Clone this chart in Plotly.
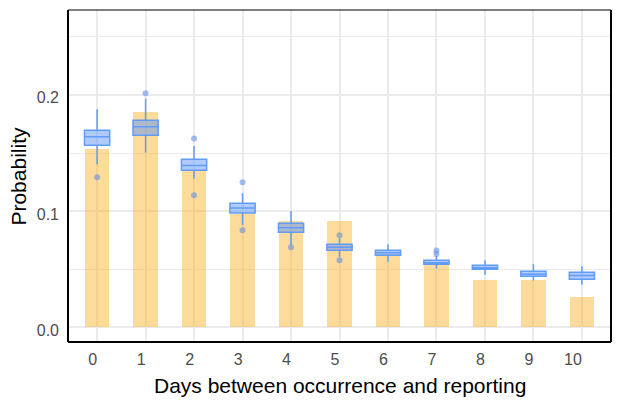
import plotly.graph_objects as go

days = [0, 1, 2, 3, 4, 5, 6, 7, 8, 9, 10]
tick_labels = [str(d) for d in days]

# Observed (empirical) probability for each delay
observed = [0.1535, 0.1854, 0.135, 0.098, 0.0916, 0.0916, 0.063, 0.0555, 0.0409, 0.0409, 0.0262]

# Posterior box statistics
q1 = [0.1567, 0.1653, 0.1352, 0.0985, 0.0819, 0.0664, 0.0621, 0.0544, 0.0501, 0.0440, 0.0415]
median = [0.1641, 0.1727, 0.1392, 0.1028, 0.0858, 0.0690, 0.0643, 0.0557, 0.0514, 0.0458, 0.0446]
q3 = [0.1696, 0.1782, 0.1447, 0.1068, 0.0896, 0.0716, 0.0664, 0.0578, 0.0535, 0.0483, 0.0475]
lower_whisker = [0.1404, 0.1504, 0.1280, 0.0882, 0.0712, 0.0609, 0.0566, 0.0506, 0.0454, 0.0403, 0.0368]
upper_whisker = [0.1877, 0.1966, 0.1561, 0.1154, 0.1002, 0.0767, 0.0716, 0.0615, 0.0578, 0.0544, 0.0526]

# Outliers
outlier_day = [0, 1, 2, 2, 3, 3, 4, 5, 5, 7, 7]
outlier_value = [0.1292, 0.2015, 0.1624, 0.1137, 0.1249, 0.0836, 0.0690, 0.0793, 0.0578, 0.0661, 0.0632]

blue = "#619CF7"
font = "Liberation Sans, Arial, sans-serif"

fig = go.Figure()

fig.add_trace(go.Bar(
    x=days, y=observed, width=0.5,
    marker=dict(color="rgba(250,175,30,0.45)", line=dict(width=0)),
    showlegend=False, hoverinfo="skip",
))

fig.add_trace(go.Box(
    x=days, q1=q1, median=median, q3=q3,
    lowerfence=lower_whisker, upperfence=upper_whisker,
    width=0.52, boxpoints=False, whiskerwidth=0,
    fillcolor="rgba(95,150,250,0.5)",
    line=dict(color=blue, width=1.5),
    showlegend=False,
))

fig.add_trace(go.Scatter(
    x=outlier_day, y=outlier_value, mode="markers",
    marker=dict(size=6, color="rgba(90,135,230,0.55)", line=dict(width=0)),
    showlegend=False,
))

fig.update_layout(
    width=622, height=405,
    margin=dict(l=68, r=11, t=10, b=63, autoexpand=False),
    paper_bgcolor="white", plot_bgcolor="white",
    font=dict(family=font, color="#4D4D4D"),
    bargap=0, boxmode="overlay",
    xaxis=dict(
        range=[-0.6, 10.6], tickmode="array", tickvals=days, ticktext=tick_labels,
        ticklabelposition="outside left", automargin=False, ticklabelstandoff=6,
        showgrid=True, gridcolor="#EBEBEB", gridwidth=1.5,
        zeroline=False, showline=False, ticks="",
        tickfont=dict(size=16, color="#4D4D4D", family=font),
    ),
    yaxis=dict(
        range=[-0.0125, 0.273], tickmode="array", tickvals=[0, 0.1, 0.2],
        ticktext=["0.0", "0.1", "0.2"], automargin=False,
        ticklabelstandoff=8, ticklabelshift=3,
        showgrid=True, gridcolor="#EBEBEB", gridwidth=1.5,
        minor=dict(tickvals=[0.05, 0.15, 0.25], showgrid=True, gridcolor="#EBEBEB", gridwidth=1.2),
        zeroline=False, showline=False, ticks="",
        tickfont=dict(size=16, color="#4D4D4D", family=font),
    ),
    annotations=[
        dict(text="Days between occurrence and reporting", xref="paper", yref="paper",
             x=0.5, y=-0.089, xanchor="center", yanchor="top", showarrow=False,
             font=dict(size=21, color="black", family=font)),
        dict(text="Probability", xref="paper", yref="paper",
             x=-0.068, y=0.5, xanchor="right", yanchor="middle", textangle=-90, showarrow=False,
             font=dict(size=21, color="black", family=font)),
    ],
    shapes=[
        dict(type="line", xref="paper", yref="paper", x0=0, x1=1, y0=1, y1=1, line=dict(color="black", width=1.2)),
        dict(type="line", xref="paper", yref="paper", x0=0, x1=1, y0=0, y1=0, line=dict(color="black", width=2)),
        dict(type="line", xref="paper", yref="paper", x0=0, x1=0, y0=0, y1=1, line=dict(color="black", width=2)),
        dict(type="line", xref="paper", yref="paper", x0=1, x1=1, y0=0, y1=1, line=dict(color="black", width=2)),
    ],
)

fig.write_html("out.html", config={"displayModeBar": False},
               post_script="document.body.style.margin='0';document.body.style.padding='0';")
